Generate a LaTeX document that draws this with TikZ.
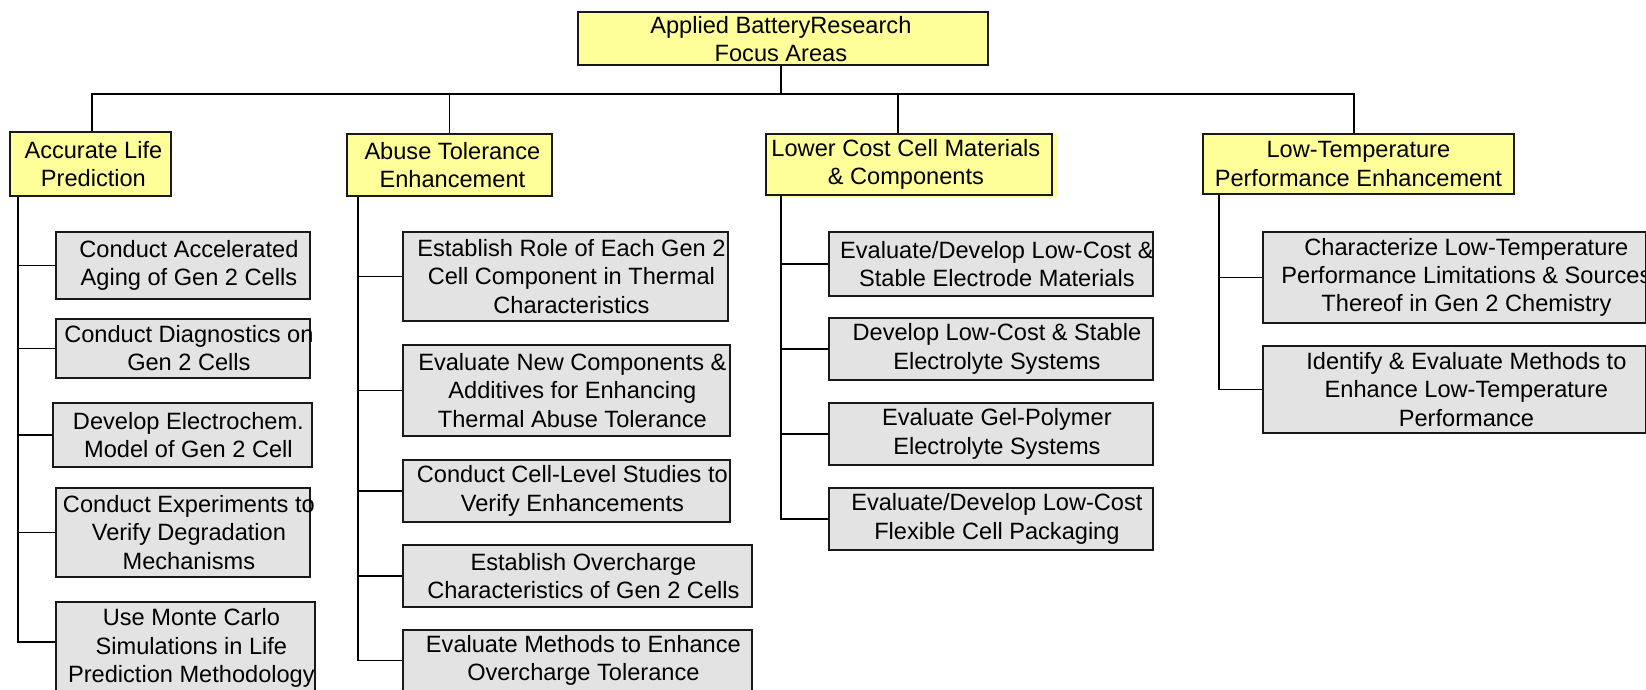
\documentclass[tikz,border=0pt]{standalone}
\usepackage{fontspec}
\setmainfont{Liberation Sans}
\definecolor{byellow}{RGB}{255,255,153}
\definecolor{bgray}{RGB}{227,227,227}
\definecolor{bline}{RGB}{25,25,25}
\begin{document}
\begin{tikzpicture}[x=1pt,y=-1pt,
  box/.style={draw=bline, line width=1.8pt, rectangle, inner sep=0pt, anchor=north west},
  ybox/.style={box, fill=byellow},
  gbox/.style={box, fill=bgray},
  sz/.style 2 args={minimum width=#1pt, minimum height=#2pt},
  txt/.style={inner sep=0pt, align=center, font=\fontsize{23.6}{28.2}\selectfont},
  conn/.style={draw=black, line width=1.6pt}]
\useasboundingbox (0,0) rectangle (1646,690);
\clip (0,0) rectangle (1646,690);

% root and level 1
\node[ybox, sz={410}{53}] (root) at (577,11) {};
\node[txt] (roott) at ([xshift=-2pt,yshift=-1pt]root.center) {Applied BatteryResearch\\Focus Areas};
\node[ybox, sz={161}{64}] (a0) at (9,131) {};
\node[txt] (a0t) at ([xshift=3pt]a0.center) {Accurate Life\\Prediction};
\node[ybox, sz={205}{62}] (b0) at (346,133) {};
\node[txt] (b0t) at ([xshift=3pt]b0.center) {Abuse Tolerance\\Enhancement};
\fill[byellow] (765,133) rectangle (1057,197);
\node[ybox, sz={286}{61}] (c0) at (765,133) {};
\node[txt] (c0t) at ([xshift=-3pt]c0.center) {Lower Cost Cell Materials\\\& Components};
\node[ybox, sz={311}{60}] (d0) at (1202,133) {};
\node[txt] (d0t) at (d0.center) {Low-Temperature\\Performance Enhancement};

% column 1
\node[gbox, sz={254}{67}] (a1) at (55,231) {};
\node[txt] (a1t) at ([xshift=6pt]a1.center) {Conduct Accelerated\\Aging of Gen 2 Cells};
\node[gbox, sz={254}{59}] (a2) at (55,318) {};
\node[txt] (a2t) at ([xshift=6pt]a2.center) {Conduct Diagnostics on\\Gen 2 Cells};
\node[gbox, sz={259}{64}] (a3) at (52,402) {};
\node[txt] (a3t) at ([xshift=6pt]a3.center) {Develop Electrochem.\\Model of Gen 2 Cell};
\node[gbox, sz={254}{89}] (a4) at (55,487) {};
\node[txt] (a4t) at ([xshift=6pt]a4.center) {Conduct Experiments to\\Verify Degradation\\Mechanisms};
\node[gbox, sz={259}{92}] (a5) at (55,601) {};
\node[txt] (a5t) at ([xshift=6pt]a5.center) {Use Monte Carlo\\Simulations in Life\\Prediction Methodology};

% column 2
\node[gbox, sz={325}{89}] (b1) at (402,231) {};
\node[txt] (b1t) at ([xshift=6pt]b1.center) {Establish Role of Each Gen 2\\Cell Component in Thermal\\Characteristics};
\node[gbox, sz={327}{91}] (b2) at (402,344) {};
\node[txt] (b2t) at ([xshift=6pt]b2.center) {Evaluate New Components \&\\Additives for Enhancing\\Thermal Abuse Tolerance};
\node[gbox, sz={327}{62}] (b3) at (402,459) {};
\node[txt] (b3t) at ([xshift=6pt]b3.center) {Conduct Cell-Level Studies to\\Verify Enhancements};
\node[gbox, sz={349}{62}] (b4) at (402,544) {};
\node[txt] (b4t) at ([xshift=6pt]b4.center) {Establish Overcharge\\Characteristics of Gen 2 Cells};
\node[gbox, sz={349}{61}] (b5) at (402,629) {};
\node[txt] (b5t) at ([xshift=6pt]b5.center) {Evaluate Methods to Enhance\\Overcharge Tolerance};

% column 3
\node[gbox, sz={324}{64}] (c1) at (828,231) {};
\node[txt] (c1t) at ([xshift=6pt]c1.center) {Evaluate/Develop Low-Cost \&\\Stable Electrode Materials};
\node[gbox, sz={324}{62}] (c2) at (828,317) {};
\node[txt] (c2t) at ([xshift=6pt]c2.center) {Develop Low-Cost \& Stable\\Electrolyte Systems};
\node[gbox, sz={324}{62}] (c3) at (828,402) {};
\node[txt] (c3t) at ([xshift=6pt]c3.center) {Evaluate Gel-Polymer\\Electrolyte Systems};
\node[gbox, sz={324}{62}] (c4) at (828,487) {};
\node[txt] (c4t) at ([xshift=6pt]c4.center) {Evaluate/Develop Low-Cost\\Flexible Cell Packaging};

% column 4
\node[gbox, sz={383}{91}] (d1) at (1262,231) {};
\node[txt] (d1t) at ([xshift=12pt]d1.center) {Characterize Low-Temperature\\Performance Limitations \& Sources\\Thereof in Gen 2 Chemistry};
\node[gbox, sz={383}{87}] (d2) at (1262,345) {};
\node[txt] (d2t) at ([xshift=12pt]d2.center) {Identify \& Evaluate Methods to\\Enhance Low-Temperature\\Performance};

% top connectors
\coordinate (bus) at (0,94);
\draw[conn] ([xshift=-2pt]root.south) -- ([xshift=-2pt]root.south |- bus);
\draw[conn] ([xshift=1.5pt]a0.north) |- ([xshift=-4.5pt]d0.north |- bus) -- ([xshift=-4.5pt]d0.north);
\draw[conn] (b0.north) -- (b0.north |- bus);
\draw[conn] ([xshift=-11pt]c0.north) -- ([xshift=-11pt]c0.north |- bus);

% column spines
\coordinate (k1) at ([xshift=9pt]a0.south west);
\coordinate (k2) at ([xshift=12pt]b0.south west);
\coordinate (k3) at ([xshift=16pt]c0.south west);
\coordinate (k4) at ([xshift=17pt]d0.south west);
\draw[conn] (k1) |- ([yshift=6pt]a5.west);
\foreach \n in {a1,a2,a3,a4} \draw[conn] (\n.west) -- (\n.west -| k1);
\draw[conn] (k2) |- (b5.west);
\foreach \n in {b1,b2,b3,b4} \draw[conn] (\n.west) -- (\n.west -| k2);
\draw[conn] (k3) |- (c4.west);
\foreach \n in {c1,c2,c3} \draw[conn] (\n.west) -- (\n.west -| k3);
\draw[conn] (k4) |- (d2.west);
\draw[conn] (d1.west) -- (d1.west -| k4);
\end{tikzpicture}
\end{document}
